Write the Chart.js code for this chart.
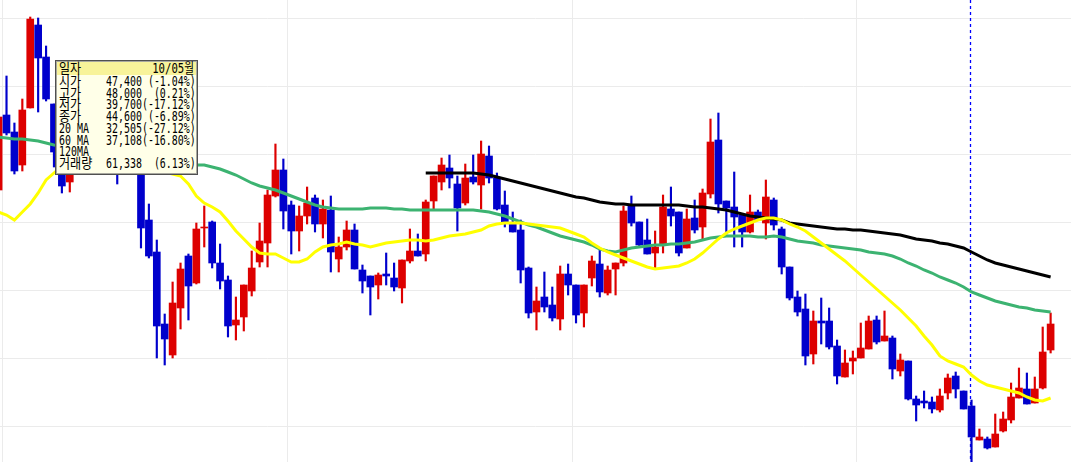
<!DOCTYPE html>
<html>
<head>
<meta charset="utf-8">
<script src="https://cdn.jsdelivr.net/npm/chart.js@4.4.1/dist/chart.umd.min.js"></script>
<style>
  html, body { margin: 0; padding: 0; background: #fff; }
  #wrap { position: relative; width: 1071px; height: 462px; overflow: hidden; }
  #info {
    position: absolute; left: 55px; top: 60px; width: 143px; height: 115px;
    box-sizing: border-box; border: 1px solid #505050;
    box-shadow: inset 0 0 0 1px #a8a8a0;
    background: #ffffe8;
    font-family: "DejaVu Sans Mono", "Noto Sans CJK KR", monospace;
    font-size: 14px; line-height: 12px; color: #000;
  }
  #info .head { position: absolute; left: 1px; right: 1px; top: 1px; height: 13px; background: #f8f39a; }
  #info .row { position: absolute; left: 1px; right: 1px; height: 12px; white-space: pre; }
  #info .lab { position: absolute; left: 2px; transform-origin: left center; }
  #info .ko { transform: scaleX(0.86); }
  #info .en { transform: scaleX(0.71); }
  #info .val { position: absolute; left: 49px; transform: scaleX(0.71); transform-origin: left center; }
  #info .right { position: absolute; right: 2px; transform: scaleX(0.76); transform-origin: right center; }
</style>
</head>
<body>
<div id="wrap">
  <canvas id="chart" width="1071" height="462"></canvas>
  <div id="info">
    <div class="head"></div>
    <div class="row" style="top:1px"><span class="lab ko">일자</span><span class="right">10/05월</span></div>
    <div class="row" style="top:14px"><span class="lab ko">시가</span><span class="val">47,400 (-1.04%)</span></div>
    <div class="row" style="top:25.7px"><span class="lab ko">고가</span><span class="val">48,000  (0.21%)</span></div>
    <div class="row" style="top:37.4px"><span class="lab ko">저가</span><span class="val">39,700(-17.12%)</span></div>
    <div class="row" style="top:49.1px"><span class="lab ko">종가</span><span class="val">44,600 (-6.89%)</span></div>
    <div class="row" style="top:60.8px"><span class="lab en">20 MA</span><span class="val">32,505(-27.12%)</span></div>
    <div class="row" style="top:72.5px"><span class="lab en">60 MA</span><span class="val">37,108(-16.80%)</span></div>
    <div class="row" style="top:84.2px"><span class="lab en">120MA</span></div>
    <div class="row" style="top:95.9px"><span class="lab ko">거래량</span><span class="val">61,338  (6.13%)</span></div>
  </div>
</div>
<script>
// daily candles, left to right
const opens = [41000,48500,46800,43500,49200,57500,54300,49600,45000,41800,
  44000,43000,45200,47000,45000,46500,43200,44500,43500,38000,
  34800,27600,24500,29200,34400,31700,37200,37800,33700,32000,
  27500,28300,30900,33800,35700,40400,43000,39500,36900,38400,
  40200,37600,39000,34100,35300,37000,33000,32400,31500,32600,
  32200,31200,33900,34900,34600,39900,41800,43200,41600,39700,
  42300,41500,44400,42200,39500,37700,37000,33200,28800,30300,
  29500,28100,32600,31500,28700,32200,33600,30700,33100,33700,
  39400,37800,36000,34700,35500,39100,38800,35200,38200,37300,
  40600,46000,39900,39300,38500,36800,38800,37700,40000,37100,
  33300,30300,29100,24600,27900,27900,25400,22300,23900,24200,
  25100,28000,25900,26200,22900,23900,20100,19900,19800,19000,
  20700,22400,20900,19400,16000,16100,15300,16900,18000,20200,
  21100,19700,21200,25000];

const highs = [48500,52400,47700,50100,58300,58200,55400,49600,46000,45000,
  44800,46000,47500,47800,47200,47000,45200,45500,44000,39600,
  36000,28600,31800,33700,34600,37700,39400,37900,35600,32400,
  30300,31500,34900,37700,41000,45600,44100,39900,39400,41300,
  40500,40000,40400,36300,37900,37600,33500,32400,32700,34700,
  33700,34000,37100,36600,40000,42400,44200,44500,42400,43600,
  44500,45900,45400,42700,40900,38800,38000,33300,31300,32800,
  31300,33400,33600,31500,31500,34400,35000,33400,33700,39400,
  40400,37800,38100,36900,40500,41300,38800,39100,40000,41100,
  48100,48700,39900,42800,38500,40500,39000,42000,40200,37300,
  33300,30900,30600,28900,30200,29200,26000,25000,24900,27700,
  28400,28400,28900,26400,24600,23900,20400,20900,20300,21100,
  22600,22800,20900,20000,17100,16300,18600,18800,21700,23200,
  22700,22300,27300,28700];

const lows = [40800,46500,42600,42900,49200,48800,49900,43300,40700,40800,
  42600,42800,44800,44200,44000,41600,42800,42800,35200,34200,
  24200,23500,24200,27100,28000,31600,35300,33200,31100,26300,
  26000,26900,30400,33300,33300,40300,37100,34600,34900,37600,
  36800,36200,32800,32800,35000,33100,30700,28500,30100,31500,
  30900,29700,33700,34400,33900,39000,41000,41200,36900,39500,
  41600,39100,41700,39000,37300,36800,31700,28200,27000,28800,
  27900,27000,30500,27700,27300,31400,30300,30500,30500,33400,
  37400,35400,34600,33200,34700,37400,34400,35200,36700,36100,
  40200,38700,36600,35300,35300,36700,38000,36100,37000,32600,
  30000,28400,23500,23600,25600,25100,21600,22300,22600,24200,
  25100,25600,25900,22100,22400,20000,17900,19200,18700,18800,
  20100,20200,19100,13800,16000,15100,15300,16800,17700,20200,
  19600,19700,21100,24700];

const closes = [48300,46700,42900,49000,58100,54200,50100,44800,41400,44000,
  43000,45200,47000,45000,46500,43200,44500,43500,37200,34400,
  27400,26100,29700,33100,31400,37100,37300,33700,31900,27400,
  28000,31500,33200,35900,40500,43000,38900,36900,38400,39700,
  37600,39100,34800,35300,37000,33100,31900,31300,32500,32400,
  31300,34000,34900,34400,39800,42400,43500,42200,39200,42200,
  41800,44600,42200,39100,37700,36800,33000,28700,29900,29300,
  28200,32600,31500,28500,31500,33900,30800,33000,33700,38900,
  37700,35500,34600,35300,39300,38400,34700,38100,37000,40700,
  45800,39600,39200,38300,36800,38800,38000,40300,37500,33300,
  30200,28800,24400,27900,27700,25300,22400,23700,24200,25200,
  27900,25800,26400,23100,24000,20100,19500,19700,19100,20400,
  22200,21100,19100,16300,16300,15200,16600,18100,20300,21200,
  19600,21100,24800,27600];

// moving averages as drawn
const ma20 = [38800,38500,38000,38800,39600,40700,42000,42700,43400,43800,
  44000,44200,44300,44300,44200,44000,43800,43600,43400,43200,
  43000,42800,42600,42400,41600,40400,39700,39300,38800,37900,
  36900,36100,35300,34700,34600,34600,34200,33800,33800,34100,
  34800,35300,35500,35600,35800,35600,35500,35300,35500,35700,
  35800,35900,36000,36000,35900,36000,36200,36400,36500,36600,
  36800,37000,37400,37600,37700,37700,37700,37600,37500,37400,
  37300,37200,36900,36600,36300,35700,35200,34800,34500,34200,
  33900,33600,33300,33100,33200,33300,33400,33700,34100,34700,
  35400,36100,36700,37100,37400,37700,38000,38200,38200,38000,
  37600,37300,36900,36300,35700,35100,34500,33900,33200,32500,
  31800,31100,30400,29700,29000,28200,27400,26400,25500,24400,
  23900,23600,23300,22500,21900,21500,21300,21100,20900,20700,
  20300,20000,19900,20200];

const ma60 = [46300,46200,46100,46100,46000,45900,45700,45500,45400,45300,
  45200,45100,45000,44900,44800,44700,44600,44400,44300,44200,
  44000,43900,43800,43700,43600,43500,43500,43300,43100,42800,
  42500,42100,41700,41400,41200,41000,40700,40400,40100,39800,
  39500,39300,39200,39100,39100,39100,39100,39200,39200,39200,
  39100,39100,39000,39000,39000,39000,39000,39000,39000,39000,
  39000,38900,38800,38600,38400,38100,37800,37500,37300,37000,
  36700,36400,36200,36000,35800,35500,35100,34900,34800,35000,
  35200,35300,35400,35500,35500,35600,35600,35700,35800,36000,
  36200,36300,36400,36400,36400,36400,36300,36300,36400,36300,
  36100,35900,35800,35700,35500,35400,35300,35200,35100,35000,
  34800,34700,34600,34400,34100,33700,33400,33000,32700,32300,
  32000,31700,31300,30800,30500,30200,29900,29700,29500,29300,
  29200,29000,28900,28800];

// 120-day line only exists from candle 54 on
const ma120 = Array(54).fill(null).concat([
  42700,42700,42700,42700,42700,42700,
  42700,42600,42500,42300,42100,41900,41700,41500,41300,41100,
  40900,40700,40500,40300,40200,40000,39800,39700,39600,39600,
  39500,39500,39500,39500,39500,39500,39500,39400,39300,39300,
  39200,39100,39000,38800,38600,38400,38300,38200,38100,38000,
  37700,37600,37500,37400,37300,37200,37100,37100,37000,37000,
  36900,36800,36700,36600,36500,36300,36100,36000,35900,35700,
  35600,35400,35200,34800,34400,34000,33700,33500,33300,33100,
  32900,32700,32500,32300]);

const yGrid = [58200, 51400, 44600, 37800, 31000, 24200, 17400];
const xGrid = [0.55, 36.55, 72.5, 108.5];
const cursorIndex = 122.85;

const UP = '#dd0000';
const DOWN = '#0000cc';
const candleColors = closes.map((c, i) => c >= opens[i] ? UP : DOWN);

const toPoints = arr => arr.map((v, i) => ({ x: i, y: v })).filter(p => p.y !== null);

const cursorLine = {
    id: 'cursorLine',
    beforeDatasetsDraw(chart) {
        const ctx = chart.ctx;
        const area = chart.chartArea;
        const x = Math.floor(chart.scales.x.getPixelForValue(cursorIndex)) + 0.5;
        ctx.save();
        ctx.strokeStyle = '#0000ff';
        ctx.lineWidth = 1.3;
        ctx.setLineDash([3, 3]);
        ctx.beginPath();
        ctx.moveTo(x, area.top);
        ctx.lineTo(x, area.bottom);
        ctx.stroke();
        ctx.restore();
    }
};

const gridStyle = { color: '#ebebeb', lineWidth: 1, drawTicks: false, offset: false };

new Chart(document.getElementById('chart').getContext('2d'), {
    type: 'bar',
    data: {
        datasets: [
            {
                type: 'line', data: toPoints(ma20), borderColor: '#ffff00', borderWidth: 3,
                pointRadius: 0, tension: 0, order: 0
            },
            {
                type: 'line', data: toPoints(ma60), borderColor: '#3cb371', borderWidth: 3,
                pointRadius: 0, tension: 0, order: 1
            },
            {
                type: 'line', data: toPoints(ma120), borderColor: '#000000', borderWidth: 3,
                pointRadius: 0, tension: 0, order: 2
            },
            {
                // bodies
                data: opens.map((o, i) => ({ x: i, y: [o, closes[i]] })),
                backgroundColor: candleColors, borderWidth: 0,
                barThickness: 7, grouped: false, order: 3
            },
            {
                // wicks
                data: lows.map((l, i) => ({ x: i, y: [l, highs[i]] })),
                backgroundColor: candleColors, borderWidth: 0,
                barThickness: 1.5, grouped: false, order: 4
            }
        ]
    },
    options: {
        responsive: false,
        animation: false,
        layout: { padding: 0 },
        plugins: {
            legend: { display: false },
            tooltip: { enabled: false }
        },
        scales: {
            x: {
                type: 'linear', min: 0.177, max: 135.577, offset: false,
                grid: gridStyle, border: { display: false },
                ticks: { display: false },
                afterBuildTicks: s => { s.ticks = xGrid.map(v => ({ value: v })); }
            },
            y: {
                type: 'linear', min: 13800, max: 60000,
                grid: gridStyle, border: { display: false },
                ticks: { display: false },
                afterBuildTicks: s => { s.ticks = yGrid.map(v => ({ value: v })); }
            }
        }
    },
    plugins: [cursorLine]
});
</script>
</body>
</html>
